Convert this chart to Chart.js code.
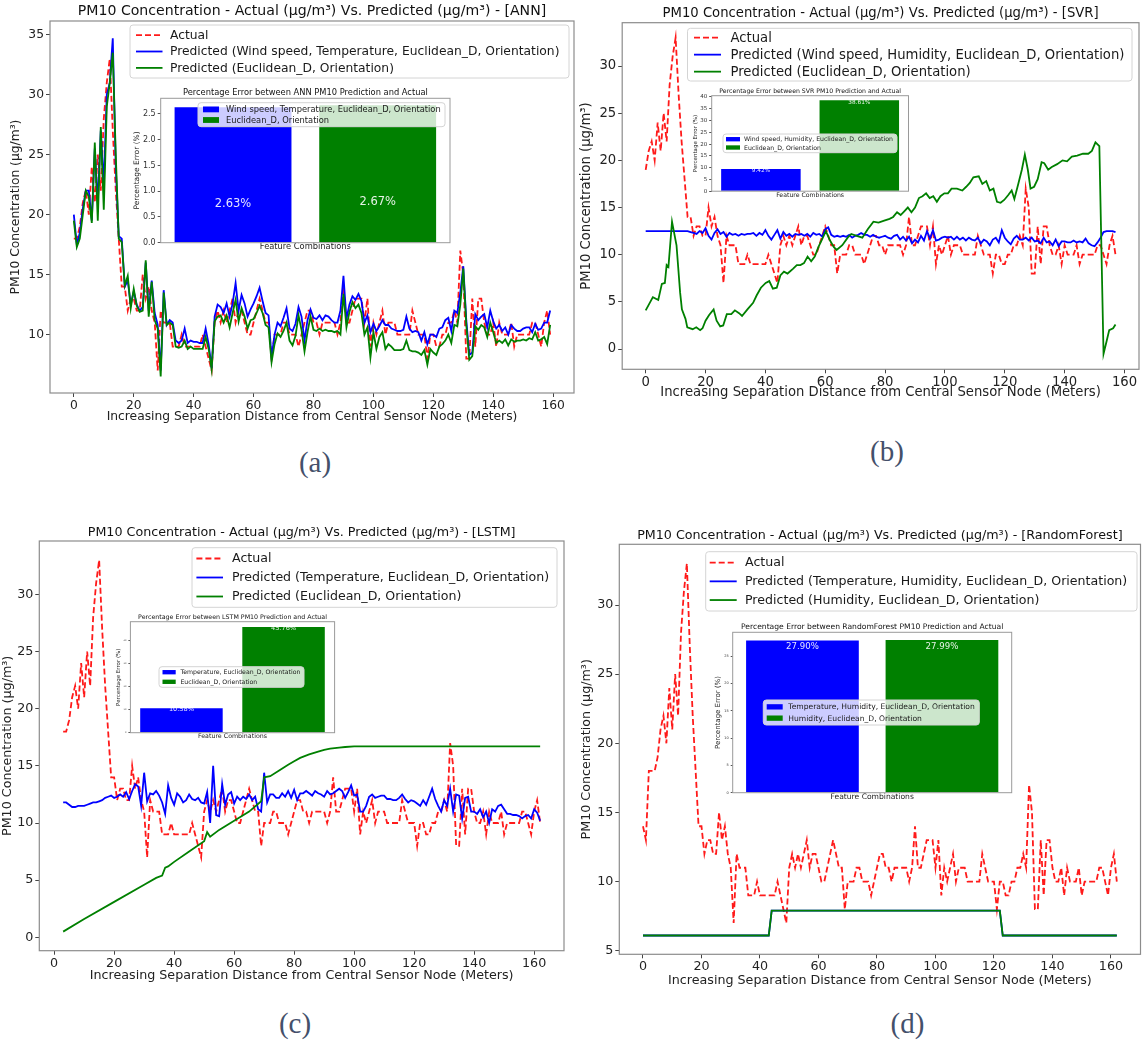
<!DOCTYPE html>
<html>
<head>
<meta charset="utf-8">
<title>PM10 Concentration - Actual vs. Predicted</title>
<script src="https://cdn.jsdelivr.net/npm/chart.js@4"></script>
<style>
  body { margin: 0; background: #fff; overflow: hidden; }
  #fig { position: relative; width: 1142px; height: 1041px; }
  #fig canvas { position: absolute; }
  .cap {
    position: absolute; transform: translate(-50%, -50%);
    font-family: 'Liberation Serif', 'DejaVu Serif', serif;
    font-size: 29px; color: #44506a; white-space: nowrap;
  }
</style>
</head>
<body>
<div id="fig"></div>
<script>
// ---- data -------------------------------------------------------------

const distanceTicks = [0, 20, 40, 60, 80, 100, 120, 140, 160];

// measured PM10 (ug/m3), one reading per metre from the central node
const actualPM10 = [
  14, 13, 18, 18, 18, 19, 21, 22, 20, 24,
  21, 25, 22, 28, 31, 33, 27, 22, 18, 14,
  14, 12, 13, 13, 12, 12, 15, 13, 14, 12,
  11, 7, 12, 11, 11, 11, 9, 9, 9, 10,
  9, 9, 9, 9, 9, 9, 10, 9, 8, 7,
  11, 12, 11, 12, 11, 12, 13, 11, 12, 12,
  11, 10, 10, 11, 12, 13, 12, 11, 11, 8,
  10, 10, 10, 11, 11, 10, 10, 10, 9, 10,
  11, 12, 12, 11, 11, 10, 11, 11, 11, 11,
  11, 10, 11, 14, 11, 11, 12, 13, 13, 13,
  11, 13, 9, 11, 10, 11, 12, 10, 11, 11,
  11, 10, 10, 10, 10, 10, 12, 11, 10, 10,
  10, 8, 10, 10, 9, 9, 10, 10, 11, 11,
  12, 11, 17, 15, 8, 8, 13, 9, 13, 13,
  11, 10, 10, 11, 9, 11, 10, 10, 10, 11,
  9, 10, 10, 10, 10, 10, 11, 11, 10, 9,
  11, 12, 10
];

// ANN predictions, 0..159 m
const annWindTempPM10 = [
  20, 17.5, 18.5, 20.5, 22, 22, 19.5, 25.5, 21, 27,
  22.5, 30, 31, 34.7, 24, 18.2, 18, 14, 14.5, 12.5,
  13.6, 12.5, 12, 12.3, 16, 12, 14.5, 11.8, 10.8, 7,
  13.7, 10.8, 11.2, 11, 9.5, 9.3, 9.5, 10.5, 9.3, 9.5,
  9.4, 9.4, 9.3, 9.3, 10.5, 9.2, 7.2, 11.5, 12.5, 12.3,
  11.8, 12.6, 11.5, 12.6, 14.3, 12, 13.3, 12.6, 11.5, 12.1,
  12.6, 13.2, 13.9, 12.8, 11.8, 11.6, 8.1, 10, 11, 10.7,
  11.4, 12.2, 10.5, 10.3, 10.9, 12.3, 11.5, 9.5, 11.2, 12.1,
  11.4, 11.3, 11.6, 11.2, 11.6, 11.5, 11.2, 11, 11, 12,
  14.9, 11.3, 12.5, 13.2, 12.9, 13.4, 12.8, 11, 11.6, 10.2,
  10.9, 10.3, 10.7, 11.2, 10.8, 10.8, 10.5, 10.4, 10.3, 10.3,
  10.4, 11.5, 10.5, 10.2, 10.3, 10.2, 9.5, 10.2, 9.2, 10,
  10, 9.8, 10.5, 10.6, 11.2, 11.4, 10.3, 12, 11.8, 13.5,
  15.7, 11.2, 8.3, 8.5, 11.7, 11.2, 11.5, 11.7, 10.6, 12,
  11.1, 10.5, 10.8, 10.3, 10.6, 10, 10.8, 10.5, 10.3, 10.3,
  10.5, 10.6, 10.6, 10.2, 10.9, 10.4, 10.5, 11, 11, 12
];
const annEuclidPM10 = [
  19.5, 17.3, 18, 20, 22, 21.5, 19.3, 26, 19.5, 27.3,
  20.4, 29, 31, 33.5, 25, 18, 17.7, 14.1, 14.9, 12.2,
  13.8, 12.4, 11.9, 12, 16.2, 11.5, 14.4, 11.2, 10.5, 6.5,
  13.5, 10.8, 11, 10.8, 9, 8.9, 9, 9.5, 8.8, 9,
  8.8, 8.8, 8.8, 8.8, 9.8, 8.8, 7.1, 11.1, 11.5, 11.6,
  11, 11.6, 10.6, 11.8, 12.9, 11.1, 12.2, 11.5, 10.5, 11.2,
  11.3, 11.8, 12.4, 11.8, 10.8, 10.6, 7.7, 9.2, 10.1, 9.8,
  10.3, 11, 9.5, 9.1, 9.9, 11.6, 10.4, 8.6, 10.2, 11.5,
  10.4, 10.3, 10.5, 10.3, 10.4, 10.3, 10.3, 10.2, 10.3, 10,
  13.4, 10.6, 11.9, 12.7, 12.2, 12.5, 11.8, 10, 10.6, 8.1,
  10.2, 8.8, 9.8, 10.2, 8.8, 9.2, 9, 8.7, 8.7, 8.7,
  8.8, 9.5, 8.7, 8.6, 8.6, 8.5, 8.3, 8.7, 7.5, 8.8,
  8.5, 8.3, 9, 9.2, 9.5, 10, 9.3, 10.8, 10.7, 12.5,
  15.5, 10.8, 7.9, 8.2, 10.7, 10.4, 10.8, 10.6, 9.8, 11,
  10.2, 9.3, 9.5, 9.3, 9.6, 9.1, 9.6, 9.4, 9.5, 9.5,
  9.6, 9.5, 9.7, 9.6, 10.2, 9.5, 9.6, 9.8, 9.2, 10.8
];

// SVR predictions, 0..157 m
const svrWindHumPM10 = [
  12.5, 12.5, 12.5, 12.5, 12.5, 12.5, 12.5, 12.5, 12.5, 12.5,
  12.5, 12.5, 12.5, 12.5, 12.5, 12.4, 12.3, 12.2, 12.5, 12.3,
  12.8, 12.0, 11.6, 12.3, 12.7, 12.2, 12.4, 11.9, 12.3, 12.1,
  12.2, 12.0, 12.2, 12.1, 12.2, 12.2, 12.3, 12.0, 12.3, 12.1,
  12.6, 12.0, 11.6, 12.1, 12.6, 11.7, 12.4, 12.0, 12.2, 11.9,
  12.2, 12.1, 12.2, 12.0, 12.2, 11.9, 12.3, 12.1, 12.2, 11.9,
  12.7, 12.9, 12.1, 11.9, 12.0, 11.9, 12.0, 11.9, 12.1, 11.8,
  12.0, 12.1, 12.3, 12.1, 12.1, 11.9, 12.1, 11.9, 11.8, 11.9,
  12.0, 11.8, 11.7, 12.0, 12.1, 11.6, 11.9, 11.5, 11.9, 11.2,
  11.6, 11.3, 12.0, 11.5, 12.5, 11.7, 12.6, 11.5, 11.6, 11.8,
  11.9, 11.8, 11.9, 11.6, 11.9, 11.6, 11.8, 11.5, 11.8, 11.6,
  11.5, 11.8, 11.2, 11.6, 11.4, 11.0, 11.6, 11.8, 11.3, 12.6,
  11.8, 11.4, 11.1, 11.7, 12.0, 11.6, 11.6, 11.8, 11.5, 11.8,
  11.4, 11.5, 11.2, 11.8, 11.3, 11.4, 11.0, 11.6, 10.9, 11.4,
  11.4, 11.3, 11.3, 11.5, 11.3, 11.4, 11.3, 11.7, 11.2, 11.0,
  10.9, 11.3, 11.8, 12.4, 12.5, 12.5, 12.5, 12.4
];
const svrEuclidDist = [
  0, 2.4, 4.2, 5.4, 6.4, 7, 7.6, 8.8, 10.3, 11.5,
  12.1, 13.3, 13.9, 15.7, 16.9, 18.2, 19, 20, 21.2, 22.7,
  23.7, 24.9, 25.9, 27.1, 28.6, 29.8, 31.2, 32.2, 34, 35.9,
  37.1, 38.5, 40.1, 41.3, 42.5, 43.8, 45, 46.2, 47.4, 49.2,
  50.5, 51.7, 52.9, 54.1, 55.3, 56.5, 57.7, 58.9, 60.2, 61.6,
  62.9, 63.8, 65.7, 67.5, 68.7, 70.5, 72.4, 74.2, 76.1, 77.8,
  79.7, 81.5, 82.7, 84, 85.2, 86.4, 87.6, 88.8, 90, 91.3,
  92.5, 93.7, 94.9, 96.1, 97.3, 98.5, 99.8, 101, 102.2, 104,
  105.8, 107.1, 108.3, 109.5, 111.3, 112.5, 113.8, 115, 116.2, 117.4,
  118.6, 119.8, 121.1, 122.3, 123.2, 124.5, 125.7, 126.7, 127.7, 128.6,
  129.8, 131, 132.3, 133.2, 134.5, 135.7, 137.5, 139.3, 140.8, 142.4,
  144.2, 146.1, 147.9, 149.1, 150.3, 151.6, 153, 154, 154.9, 156.2,
  157
];
const svrEuclidPM10 = [
  4.1, 5.5, 5.2, 6.9, 7, 8.9, 8.7, 13.5, 11, 6,
  4.2, 3.2, 2.3, 2.1, 2.3, 2.0, 2.2, 3.0, 3.6, 4.2,
  3.0, 2.4, 2.5, 3.7, 3.7, 4.1, 3.8, 3.5, 4.2, 4.9,
  5.7, 6.5, 7.0, 7.2, 6.4, 6.5, 7.8, 8.2, 8.0, 8.5,
  8.9, 8.9, 9.1, 9.8, 9.3, 9.8, 10.8, 11.6, 12.5, 11.5,
  10.8, 10.5, 11.0, 11.8, 12.2, 12.0, 11.8, 12.7, 13.5, 13.4,
  13.6, 13.8, 14.0, 14.5, 14.2, 14.6, 15.0, 14.5, 15.0, 16.0,
  16.2, 16.5, 16.0, 16.2, 15.6, 16.2, 16.5, 16.5, 17.0, 17.0,
  16.8, 17.2, 17.6, 18.2, 18.3, 17.5, 17.8, 16.8, 17.0, 15.6,
  15.5, 15.8, 16.3, 16.8, 15.9, 17.5, 19.0, 20.6, 19.0, 17.0,
  17.2, 18.0, 19.8, 19.7, 19.0, 19.3, 19.6, 20.0, 19.9, 20.4,
  20.5, 20.7, 20.7, 21.0, 21.9, 21.5, -0.5, 0.8, 2.0, 2.2,
  2.6
];

// LSTM predictions, 3..162 m
const lstmTempPM10 = [
  11.8, 11.8, 11.6, 11.4, 11.4, 11.5, 11.5, 11.5, 11.6, 11.7,
  11.8, 11.8, 11.9, 12.0, 12.2, 12.3, 12.4, 12.2, 12.3, 12.5,
  12.3, 12.7, 12.1, 12.8, 13.4, 13.2, 11.5, 14.4, 11.9, 12.6,
  12.5, 12.8, 12.4, 11.8, 10.8, 13.3, 12.2, 11.6, 12.6, 12.3,
  11.8, 12.0, 12.5, 12.1, 12.0, 12.2, 11.8, 11.7, 12.7, 10.0,
  15.0, 10.7, 10.6, 13.4, 11.6, 12.5, 12.7, 11.7, 12.3, 12.0,
  12.3, 12.1, 12.5, 12.0, 12.3, 11.2, 11.0, 14.4, 11.8, 12.5,
  12.5, 12.2, 12.2, 12.6, 12.3, 12.8, 12.2, 12.9, 12.0, 12.6,
  12.6, 12.8, 12.6, 12.4, 12.8, 12.6, 12.5, 12.3, 12.8, 12.5,
  12.6, 12.8, 13.0, 12.8, 12.2, 12.7, 13.3, 12.4, 12.5, 11.0,
  11.0, 11.5, 12.3, 12.5, 12.2, 12.3, 12.4, 12.4, 12.1, 12.1,
  12.0, 12.0, 12.2, 12.5, 12.1, 11.8, 12.0, 11.9, 11.7, 11.5,
  12.0, 11.6, 12.3, 13.0, 12.1, 11.5, 11.0, 12.0, 11.5, 13.0,
  11.0, 12.5, 12.4, 10.4, 12.2, 12.3, 11.0, 11.0, 10.8, 11.2,
  10.5, 11.0, 10.0, 11.2, 11.0, 11.5, 11.6, 11.2, 10.8, 10.8,
  10.7, 10.7, 10.6, 10.4, 10.6, 10.7, 10.4, 11.2, 10.9, 10.2
];
const lstmEuclidDist = [3, 10, 20, 30, 34, 36, 37, 38, 40, 45, 50, 51, 52, 55, 60, 65,
  69, 70, 72, 75, 78, 80, 82, 85, 88, 90, 92, 95, 97, 100, 110, 162];
const lstmEuclidPM10 = [0.5, 1.6, 3.1, 4.6, 5.2, 5.4, 6.1, 6.2, 6.6, 7.5, 8.4, 9.2, 8.8, 9.4, 10.2, 11.0,
  11.9, 14.0, 14.1, 14.6, 15.1, 15.4, 15.7, 16.0, 16.25, 16.4, 16.5, 16.6, 16.65, 16.7, 16.7, 16.7];

// Random Forest predictions (both feature sets give the same steps)
const rfStepDist = [0, 43, 44, 122, 123, 162];
const rfStepPM10 = [6.1, 6.1, 7.9, 7.9, 6.1, 6.1];

// percentage error of each feature combination
const errorANN = [2.63, 2.67];
const errorSVR = [9.42, 38.61];
const errorLSTM = [10.58, 45.76];
const errorRF = [27.90, 27.99];

const featANN = ['Wind speed, Temperature, Euclidean_D, Orientation', 'Euclidean_D, Orientation'];
const featSVR = ['Wind speed, Humidity, Euclidean_D, Orientation', 'Euclidean_D, Orientation'];
const featLSTM = ['Temperature, Euclidean_D, Orientation', 'Euclidean_D, Orientation'];
const featRF = ['Temperature, Humidity, Euclidean_D, Orientation', 'Humidity, Euclidean_D, Orientation'];

const ticksANN = [0, 0.5, 1, 1.5, 2, 2.5];
const ticksSVR = [0, 5, 10, 15, 20, 25, 30, 35, 40];
const ticksLSTM = [0, 10, 20, 30, 40];
const ticksRF = [0, 5, 10, 15, 20, 25];

// ---- drawing helpers ---------------------------------------------------

const FONT = "'DejaVu Sans', 'Noto Sans', sans-serif";
const RED = '#ff1a1a', BLUE = '#0000ff', GREEN = '#008000';
const X_TITLE = 'Increasing Separation Distance from Central Sensor Node (Meters)';
const Y_TITLE = 'PM10 Concentration (\u00b5g/m\u00b3)';
const fig = document.getElementById('fig');

// axes spines on all four sides (plus optional white face for the insets)
const frameBox = {
  id: 'frameBox',
  beforeDatasetsDraw(chart, args, o) {
    if (!o.fill) return;
    const a = chart.chartArea;
    chart.ctx.save();
    chart.ctx.fillStyle = o.fill;
    chart.ctx.fillRect(a.left, a.top, a.width, a.height);
    chart.ctx.restore();
  },
  afterDatasetsDraw(chart, args, o) {
    if (!o.color) return;
    const {ctx, chartArea: a} = chart;
    ctx.save();
    ctx.strokeStyle = o.color;
    ctx.lineWidth = o.width;
    ctx.strokeRect(a.left, a.top, a.width, a.height);
    ctx.restore();
  }
};

// matplotlib-like legend box placed inside the axes
const boxLegend = {
  id: 'boxLegend',
  afterDraw(chart, args, o) {
    if (!o.box) return;
    const ctx = chart.ctx;
    const x0 = o.box[0] - o.ox, y0 = o.box[1] - o.oy;
    const x1 = o.box[2] - o.ox, y1 = o.box[3] - o.oy;
    ctx.save();
    ctx.beginPath();
    ctx.roundRect(x0, y0, x1 - x0, y1 - y0, 3);
    ctx.fillStyle = 'rgba(255,255,255,0.8)';
    ctx.fill();
    ctx.strokeStyle = '#d4d4d4';
    ctx.lineWidth = 1;
    ctx.stroke();
    const sets = chart.data.datasets;
    const mid = (y0 + y1) / 2;
    const hx0 = o.handle[0] - o.ox, hx1 = o.handle[1] - o.ox;
    ctx.font = o.fontSize + 'px ' + FONT;
    ctx.textBaseline = 'middle';
    sets.forEach((d, k) => {
      const y = mid + (k - (sets.length - 1) / 2) * o.rowGap;
      if (o.kind === 'line') {
        ctx.setLineDash(d.borderDash || []);
        ctx.strokeStyle = d.borderColor;
        ctx.lineWidth = d.borderWidth;
        ctx.beginPath();
        ctx.moveTo(hx0, y);
        ctx.lineTo(hx1, y);
        ctx.stroke();
        ctx.setLineDash([]);
      } else {
        const ph = o.fontSize * 0.7;
        ctx.fillStyle = d.backgroundColor;
        ctx.fillRect(hx0, y - ph / 2, hx1 - hx0, ph);
      }
      ctx.fillStyle = '#1a1a1a';
      ctx.fillText(d.label, o.textX - o.ox, y + 0.5);
    });
    ctx.restore();
  }
};

// percentage written inside each bar, 2 units below its top
const barValues = {
  id: 'barValues',
  afterDatasetsDraw(chart, args, o) {
    if (!o.size) return;
    const ctx = chart.ctx, yScale = chart.scales.y;
    ctx.save();
    ctx.font = o.size + 'px ' + FONT;
    ctx.fillStyle = 'rgba(255,255,255,0.9)';
    ctx.textAlign = 'center';
    ctx.textBaseline = 'bottom';
    chart.data.datasets.forEach((d, i) => {
      chart.getDatasetMeta(i).data.forEach((bar, j) => {
        const v = d.data[j];
        if (v === null) return;
        ctx.fillText(v.toFixed(2) + '%', bar.x, yScale.getPixelForValue(v - 2));
      });
    });
    ctx.restore();
  }
};

Chart.register(frameBox, boxLegend, barValues);

function addCanvas(left, top, w, h) {
  const c = document.createElement('canvas');
  c.width = w;
  c.height = h;
  c.style.left = left + 'px';
  c.style.top = top + 'px';
  fig.appendChild(c);
  return c;
}

function series(label, dist, values, color, order) {
  return {
    label: label,
    data: values.map((v, i) => ({ x: dist[i], y: v })),
    borderColor: color,
    borderWidth: 1.8,
    borderDash: color === RED ? [6, 3] : [],
    pointRadius: 0,
    tension: 0,
    order: order
  };
}

function metres(first, count) {
  const d = [];
  for (let i = 0; i < count; i++) d.push(first + i);
  return d;
}

function font(size) {
  return { family: FONT, size: size, weight: 'normal', lineHeight: 1.2 };
}

function drawPanel(p, datasets) {
  const [L, T, R, B] = p.frame;
  const lhT = p.titleSize * 1.2, lhL = p.labelSize * 1.2;
  const left = Math.floor(p.ylabelX - lhL / 2 - 1.5);
  const top = Math.floor(p.titleY - lhT / 2 - 2);
  const right = Math.ceil(R + 4);
  const xAxisBottom = p.xlabelY + lhL / 2;
  const bottom = Math.ceil(xAxisBottom + 2);
  const canvas = addCanvas(left, top, right - left, bottom - top);

  return new Chart(canvas, {
    type: 'line',
    data: { datasets: datasets },
    options: {
      responsive: false,
      animation: false,
      devicePixelRatio: 1,
      layout: { padding: { left: 0, top: 0, right: right - R, bottom: bottom - xAxisBottom } },
      plugins: {
        legend: { display: false },
        tooltip: { enabled: false },
        title: {
          display: true, text: p.title, fullSize: false, color: '#111',
          font: font(p.titleSize),
          padding: { top: p.titleY - top - lhT / 2, bottom: T - p.titleY - lhT / 2 }
        },
        frameBox: { color: '#8c8c8c', width: 1.2 },
        boxLegend: Object.assign({ kind: 'line', ox: left, oy: top }, p.legend)
      },
      scales: {
        x: {
          type: 'linear', bounds: 'data', min: p.xRange[0], max: p.xRange[1],
          afterBuildTicks: s => { s.ticks = distanceTicks.map(v => ({ value: v })); },
          afterFit: s => { s.height = xAxisBottom - B; },
          ticks: { autoSkip: false, maxRotation: 0, padding: 1, color: '#222', font: font(p.tickSize) },
          grid: { drawOnChartArea: false, tickLength: 4, color: '#444' },
          border: { display: false },
          title: { display: true, text: X_TITLE, color: '#222', font: font(p.labelSize), padding: 0 }
        },
        y: {
          type: 'linear', bounds: 'data', min: p.yRange[0], max: p.yRange[1],
          afterBuildTicks: s => { s.ticks = p.yTicks.map(v => ({ value: v })); },
          afterFit: s => { s.width = L - left; },
          ticks: { autoSkip: false, padding: 2, color: '#222', font: font(p.tickSize) },
          grid: { drawOnChartArea: false, tickLength: 4, color: '#444' },
          border: { display: false },
          title: {
            display: true, text: Y_TITLE, color: '#222', font: font(p.labelSize),
            padding: { top: p.ylabelX - left - lhL / 2, bottom: 0 }
          }
        }
      }
    }
  });
}

function drawInset(q) {
  const [L, T, R, B] = q.frame;
  const lhT = q.titleSize * 1.2, lhX = q.xlabelSize * 1.2, lhY = q.ylabelSize * 1.2;
  const left = Math.floor(q.ylabelX - lhY / 2 - 1);
  const top = Math.floor(q.titleY - lhT / 2 - 1);
  const right = Math.ceil(R + 3);
  const xAxisBottom = q.xlabelY + lhX / 2;
  const bottom = Math.ceil(xAxisBottom + 1);
  const canvas = addCanvas(left, top, right - left, bottom - top);
  const colours = [BLUE, GREEN];

  return new Chart(canvas, {
    type: 'bar',
    data: {
      labels: q.labels,
      datasets: q.values.map((v, i) => ({
        label: q.labels[i],
        data: q.values.map((w, j) => (j === i ? w : null)),
        backgroundColor: colours[i],
        grouped: false,
        barPercentage: 0.808,
        categoryPercentage: 1
      }))
    },
    options: {
      responsive: false,
      animation: false,
      devicePixelRatio: 1,
      layout: { padding: { left: 0, top: 0, right: right - R, bottom: bottom - xAxisBottom } },
      plugins: {
        legend: { display: false },
        tooltip: { enabled: false },
        title: {
          display: true, text: q.title, fullSize: false, color: '#111',
          font: font(q.titleSize),
          padding: { top: q.titleY - top - lhT / 2, bottom: T - q.titleY - lhT / 2 }
        },
        frameBox: { color: '#9a9a9a', width: 1, fill: '#fff' },
        boxLegend: Object.assign({ kind: 'patch', ox: left, oy: top }, q.legend),
        barValues: { size: q.valueSize }
      },
      scales: {
        x: {
          type: 'category',
          afterFit: s => { s.height = xAxisBottom - B; },
          ticks: { display: false },
          grid: { display: false },
          border: { display: false },
          title: { display: true, text: 'Feature Combinations', color: '#222', font: font(q.xlabelSize), padding: 0 }
        },
        y: {
          type: 'linear', bounds: 'data', min: 0, max: Math.max(...q.values) * 1.05,
          afterBuildTicks: s => { s.ticks = q.yTicks.map(v => ({ value: v })); },
          afterFit: s => { s.width = L - left; },
          ticks: {
            autoSkip: false, padding: 2, color: '#333', font: font(q.tickSize),
            callback: v => (q.decimals ? v.toFixed(q.decimals) : String(v))
          },
          grid: { drawOnChartArea: false, tickLength: q.tickLength, color: '#555' },
          border: { display: false },
          title: {
            display: true, text: 'Percentage Error (%)', color: '#222', font: font(q.ylabelSize),
            padding: { top: q.ylabelX - left - lhY / 2, bottom: 0 }
          }
        }
      }
    }
  });
}

function caption(text, x, y) {
  const d = document.createElement('div');
  d.className = 'cap';
  d.textContent = text;
  d.style.left = x + 'px';
  d.style.top = y + 'px';
  fig.appendChild(d);
}

// ---- (a) ANN -------------------------------------------------------------
drawPanel({
  title: 'PM10 Concentration - Actual (\u00b5g/m\u00b3) Vs. Predicted (\u00b5g/m\u00b3) - [ANN]',
  frame: [50, 21, 574, 393], titleY: 11.7, titleSize: 14.1,
  xlabelY: 417, ylabelX: 16, labelSize: 12.3, tickSize: 12.3,
  xRange: [-7.95, 166.95], yRange: [5.13, 36.14], yTicks: [10, 15, 20, 25, 30, 35],
  legend: { box: [130, 25, 569, 78], handle: [136, 162.5], textX: 170, rowGap: 16.4, fontSize: 12.3 }
}, [
  series('Actual', metres(0, 160), actualPM10.slice(3), RED, 2),
  series('Predicted (Wind speed, Temperature, Euclidean_D, Orientation)', metres(0, 160), annWindTempPM10, BLUE, 1),
  series('Predicted (Euclidean_D, Orientation)', metres(0, 160), annEuclidPM10, GREEN, 0)
]);
drawInset({
  title: 'Percentage Error between ANN PM10 Prediction and Actual',
  labels: featANN, values: errorANN, yTicks: ticksANN, decimals: 1,
  frame: [160.7, 98.3, 450, 242.7], titleY: 93.3, titleSize: 8.3,
  xlabelY: 247.3, xlabelSize: 8.3, ylabelX: 137.5, ylabelSize: 7.5, tickSize: 8, tickLength: 3,
  valueSize: 11.5,
  legend: { box: [198, 102.7, 445, 126.7], handle: [203, 219], textX: 226, rowGap: 10.6, fontSize: 8.3 }
});

// ---- (b) SVR -------------------------------------------------------------
drawPanel({
  title: 'PM10 Concentration - Actual (\u00b5g/m\u00b3) Vs. Predicted (\u00b5g/m\u00b3) - [SVR]',
  frame: [622.2, 22.7, 1139, 369.3], titleY: 14, titleSize: 13.2,
  xlabelY: 392.7, ylabelX: 586.4, labelSize: 13.2, tickSize: 13.2,
  xRange: [-7.85, 164.85], yRange: [-2.15, 34.59], yTicks: [0, 5, 10, 15, 20, 25, 30],
  legend: { box: [687.5, 28.3, 1132, 81], handle: [694, 721], textX: 730.5, rowGap: 17, fontSize: 13.2 }
}, [
  series('Actual', metres(0, 158), actualPM10.slice(5), RED, 2),
  series('Predicted (Wind speed, Humidity, Euclidean_D, Orientation)', metres(0, 158), svrWindHumPM10, BLUE, 1),
  series('Predicted (Euclidean_D, Orientation)', svrEuclidDist, svrEuclidPM10, GREEN, 0)
]);
drawInset({
  title: 'Percentage Error between SVR PM10 Prediction and Actual',
  labels: featSVR, values: errorSVR, yTicks: ticksSVR, decimals: 0,
  frame: [711.7, 95.7, 908.5, 191.2], titleY: 91.7, titleSize: 6.2,
  xlabelY: 195, xlabelSize: 6.2, ylabelX: 696, ylabelSize: 5.5, tickSize: 5.5, tickLength: 2.5,
  valueSize: 5.8,
  legend: { box: [723, 134, 897, 152.7], handle: [726, 740], textX: 744, rowGap: 8.3, fontSize: 6.2 }
});

// ---- (c) LSTM ------------------------------------------------------------
drawPanel({
  title: 'PM10 Concentration - Actual (\u00b5g/m\u00b3) Vs. Predicted (\u00b5g/m\u00b3) - [LSTM]',
  frame: [39.3, 541, 564, 950.7], titleY: 532.3, titleSize: 12.7,
  xlabelY: 976, ylabelX: 8, labelSize: 12.7, tickSize: 12.7,
  xRange: [-4.95, 169.95], yRange: [-1.17, 34.67], yTicks: [0, 5, 10, 15, 20, 25, 30],
  legend: { box: [192, 547.7, 557, 607.3], handle: [196.4, 223], textX: 232, rowGap: 19, fontSize: 12.6 }
}, [
  series('Actual', metres(3, 160), actualPM10.slice(3), RED, 2),
  series('Predicted (Temperature, Euclidean_D, Orientation)', metres(3, 160), lstmTempPM10, BLUE, 1),
  series('Predicted (Euclidean_D, Orientation)', lstmEuclidDist, lstmEuclidPM10, GREEN, 0)
]);
drawInset({
  title: 'Percentage Error between LSTM PM10 Prediction and Actual',
  labels: featLSTM, values: errorLSTM, yTicks: ticksLSTM, decimals: 0,
  frame: [130.4, 621.7, 334.6, 732.7], titleY: 617.3, titleSize: 6.3,
  xlabelY: 736.7, xlabelSize: 6.3, ylabelX: 119, ylabelSize: 5.5, tickSize: 2.2, tickLength: 2,
  valueSize: 6.6,
  legend: { box: [159, 666.7, 304, 687.3], handle: [162.5, 175.7], textX: 180.4, rowGap: 9.6, fontSize: 6.2 }
});

// ---- (d) Random Forest ---------------------------------------------------
drawPanel({
  title: 'PM10 Concentration - Actual (\u00b5g/m\u00b3) Vs. Predicted (\u00b5g/m\u00b3) - [RandomForest]',
  frame: [619.3, 544.3, 1140.5, 954.3], titleY: 535.7, titleSize: 12.7,
  xlabelY: 980.7, ylabelX: 586.4, labelSize: 12.7, tickSize: 12.7,
  xRange: [-8.1, 170.1], yRange: [4.74, 34.39], yTicks: [5, 10, 15, 20, 25, 30],
  legend: { box: [705.7, 551.7, 1137, 611], handle: [709.7, 736.7], textX: 745, rowGap: 18.7, fontSize: 12.6 }
}, [
  series('Actual', metres(0, 163), actualPM10, RED, 2),
  series('Predicted (Temperature, Humidity, Euclidean_D, Orientation)', rfStepDist, rfStepPM10, BLUE, 1),
  series('Predicted (Humidity, Euclidean_D, Orientation)', rfStepDist, rfStepPM10, GREEN, 0)
]);
drawInset({
  title: 'Percentage Error between RandomForest PM10 Prediction and Actual',
  labels: featRF, values: errorRF, yTicks: ticksRF, decimals: 0,
  frame: [732.7, 632.3, 1011.7, 792.7], titleY: 626.7, titleSize: 7.6,
  xlabelY: 797.3, xlabelSize: 7.6, ylabelX: 717.8, ylabelSize: 7, tickSize: 3.5, tickLength: 2,
  valueSize: 8.6,
  legend: { box: [763.3, 700, 979.3, 725], handle: [766.7, 782.7], textX: 788.3, rowGap: 11.3, fontSize: 7.6 }
});

caption('(a)', 315, 462);
caption('(b)', 887, 451);
caption('(c)', 295, 1023);
caption('(d)', 907.5, 1023);
</script>
</body>
</html>
